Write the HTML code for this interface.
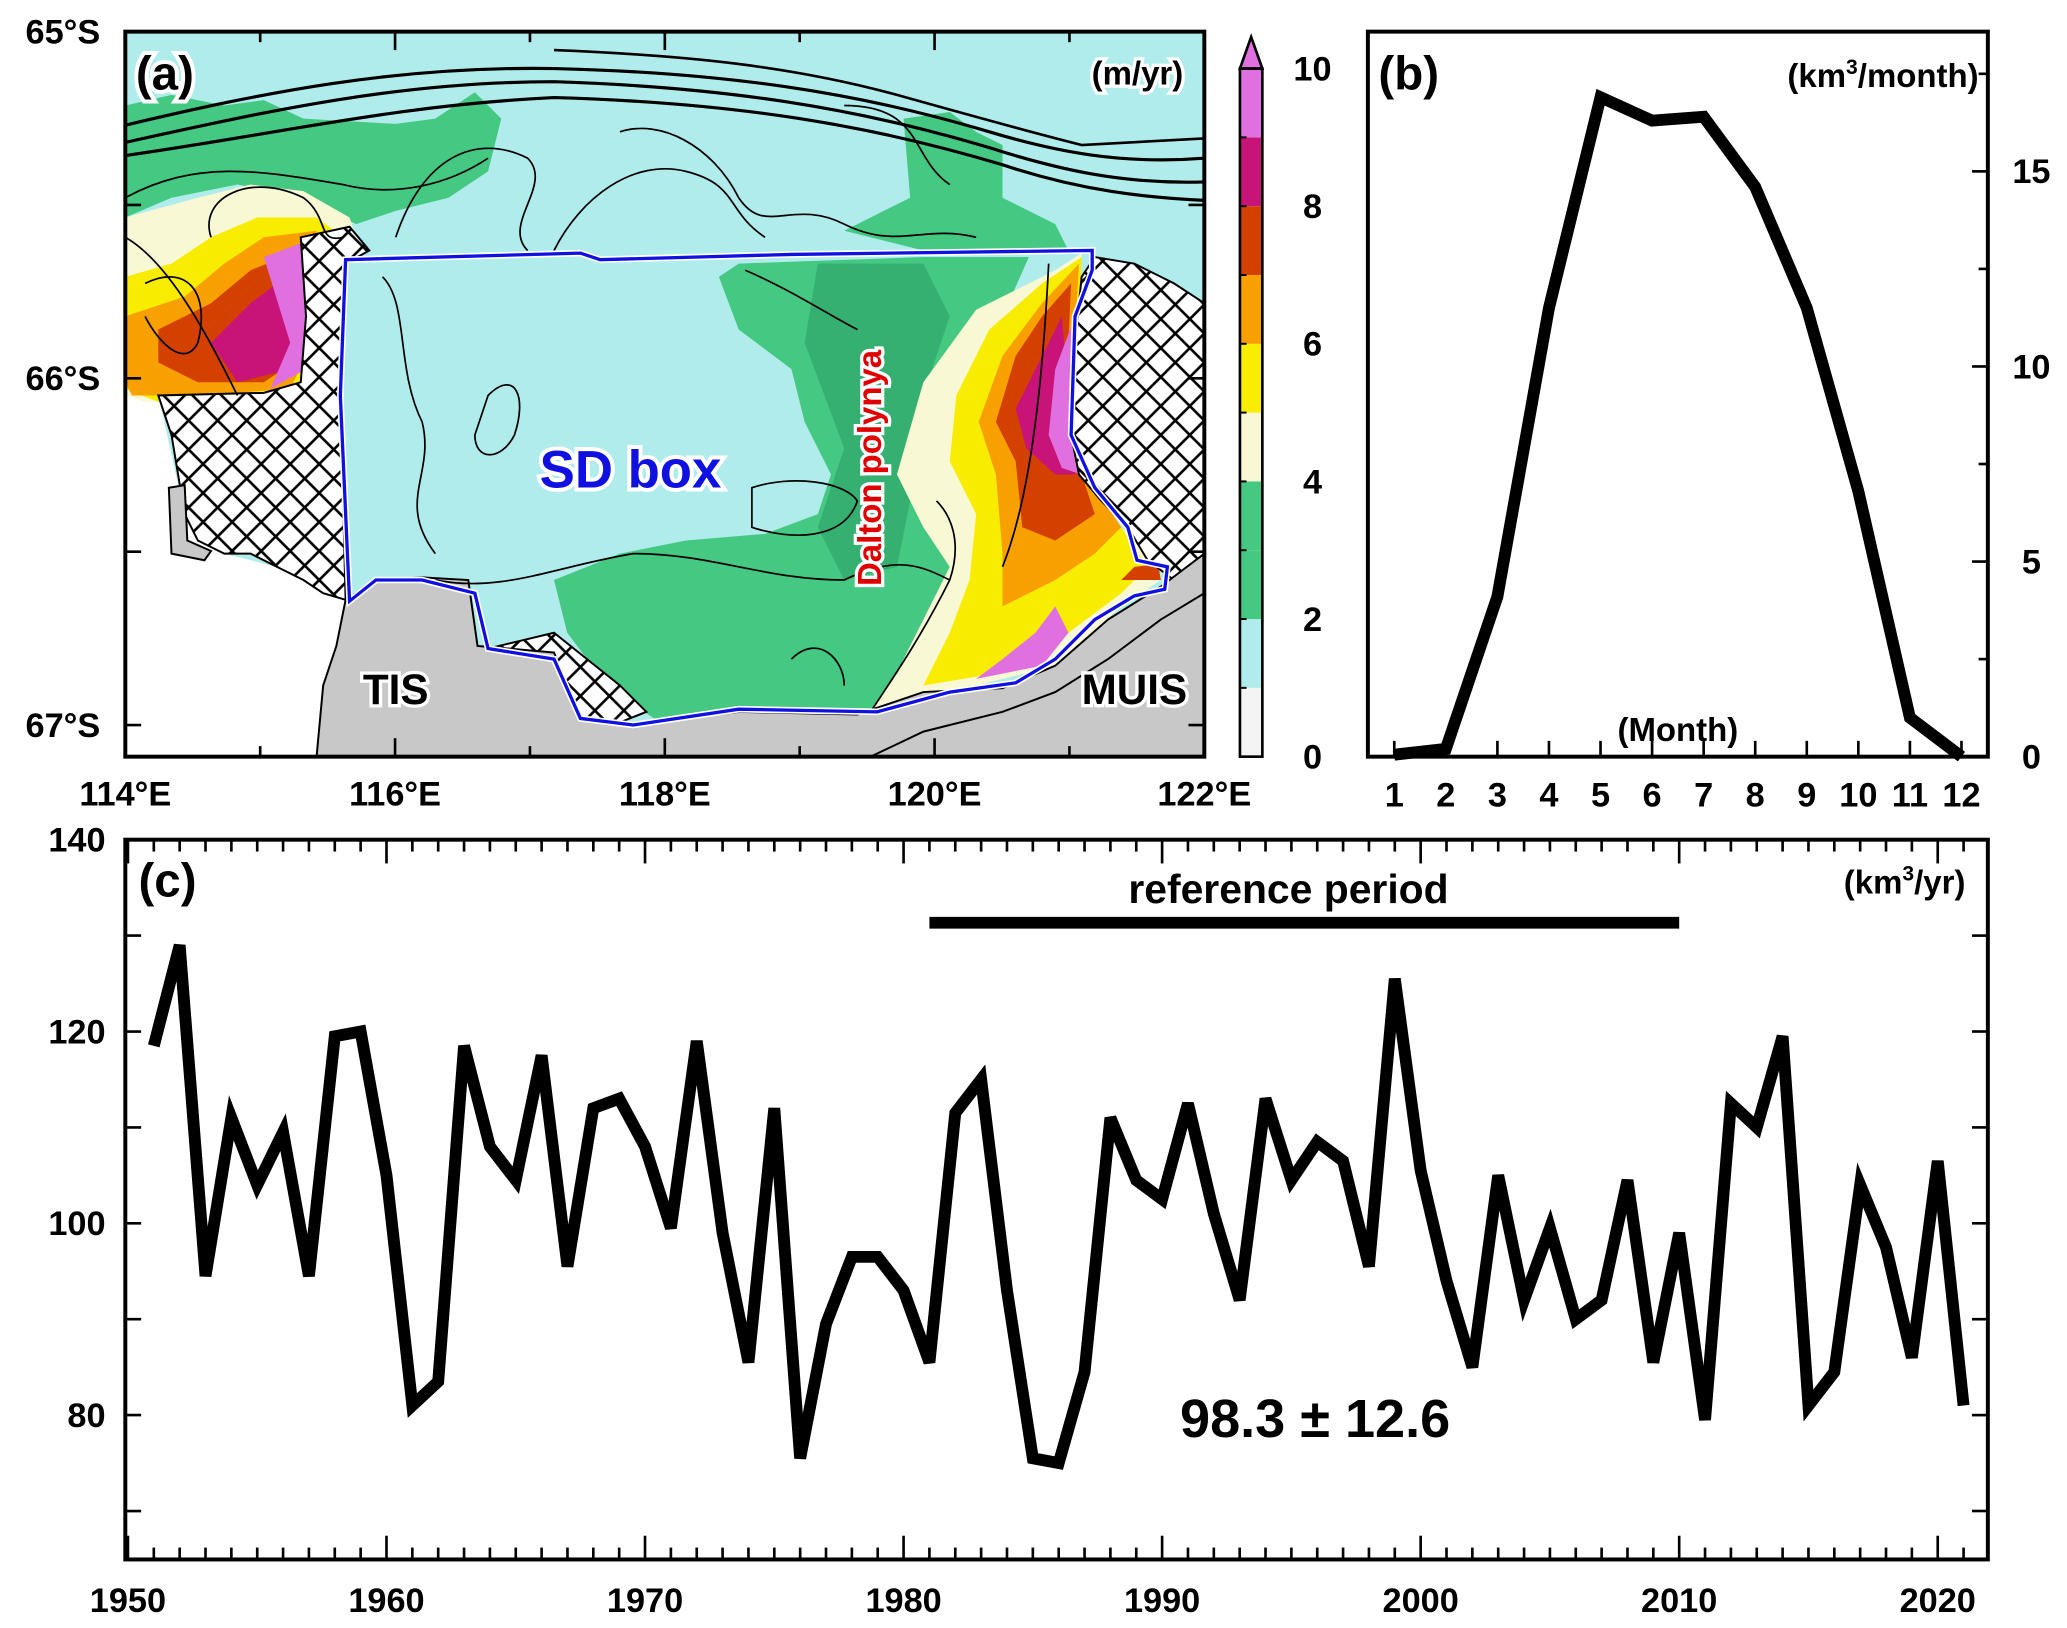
<!DOCTYPE html>
<html><head><meta charset="utf-8">
<style>
html,body{margin:0;padding:0;background:#fff;}
svg{display:block;}
text{font-family:"Liberation Sans",Arial,sans-serif;font-weight:bold;}
</style></head>
<body>
<svg id="fig" xmlns="http://www.w3.org/2000/svg" width="2067" height="1628" viewBox="0 0 1567 1235" preserveAspectRatio="none">
<defs>
<pattern id="hatch" patternUnits="userSpaceOnUse" width="22" height="22">
<rect width="22" height="22" fill="#fff"/>
<path d="M0,0 L22,22 M22,0 L0,22" stroke="#000" stroke-width="2"/>
</pattern>
<clipPath id="mapclip"><rect x="95" y="24" width="818" height="550"/></clipPath>
</defs>

<!-- ===== Panel a: map ===== -->
<g>
<g clip-path="url(#mapclip)">
<rect x="95" y="24" width="818" height="550" fill="#b0ecec"/>
<path fill="#fff" d="M95,300 L120,300 L140,390 L170,420 L210,430 L262,455 L255,490 L245,520 L240,574 L95,574 Z"/>
<path fill="#45c882" d="M95,80 L130,72 L170,80 L200,76 L230,90 L300,94 L330,90 L360,70 L380,90 L370,130 L340,150 L300,160 L270,170 L230,150 L180,140 L130,150 L95,165 Z"/>
<path fill="#45c882" d="M685,90 L720,85 L740,100 L760,110 L760,150 L780,160 L800,170 L810,190 L700,190 L640,175 L690,150 Z"/>
<path fill="#45c882" d="M560,200 L700,195 L780,195 L760,240 L740,300 L730,380 L740,450 L720,500 L700,530 L660,540 L560,545 L500,548 L460,520 L430,480 L420,440 L470,420 L520,410 L580,405 L620,390 L630,360 L610,320 L600,280 L560,250 L545,210 Z"/>
<path fill="#36b070" d="M620,200 L700,200 L720,240 L700,300 L690,380 L680,430 L640,440 L620,400 L640,340 L610,260 Z"/>
<path fill="#f8f8d4" d="M820,192 L800,205 L740,235 L700,290 L680,360 L700,400 L720,430 L700,470 L680,510 L660,540 L740,520 L800,505 L850,460 L880,440 L860,410 L840,390 L820,360 L815,300 Z"/>
<path fill="#f8ec00" d="M820,195 L790,215 L750,250 L725,300 L720,350 L740,390 L735,440 L720,480 L700,520 L760,510 L810,480 L850,450 L870,430 L850,400 L830,380 L815,330 L818,250 Z"/>
<path fill="#f8a000" d="M818,200 L790,230 L760,270 L742,320 L755,360 L760,420 L760,460 L800,440 L830,420 L850,400 L830,370 L815,330 L815,250 Z"/>
<path fill="#d44000" d="M812,215 L790,240 L770,270 L755,320 L770,350 L775,400 L800,410 L830,390 L820,360 L808,320 L810,260 Z"/>
<path fill="#c81478" d="M805,240 L790,270 L770,310 L778,340 L800,360 L815,360 L810,300 Z"/>
<path fill="#e070e0" d="M815,240 L800,280 L795,330 L805,355 L820,360 L812,300 Z"/>
<path fill="#e070e0" d="M800,460 L785,480 L760,500 L740,515 L790,505 L810,480 Z"/>
<path fill="#d44000" d="M860,430 L850,440 L880,440 L878,428 Z"/>
<path fill="#f8f8d4" d="M95,165 L150,150 L190,140 L230,145 L265,165 L270,180 L240,200 L230,240 L240,280 L200,300 L110,305 L95,300 Z"/>
<path fill="#f8ec00" d="M95,210 L130,200 L160,180 L195,165 L240,165 L260,180 L235,200 L230,260 L235,290 L200,300 L120,305 L95,295 Z"/>
<path fill="#f8a000" d="M95,240 L140,225 L170,200 L200,180 L240,175 L240,200 L232,270 L220,295 L150,300 L100,300 L95,290 Z"/>
<path fill="#d44000" d="M120,250 L160,230 L190,205 L215,195 L232,200 L230,270 L200,290 L150,290 L120,275 Z"/>
<path fill="#c81478" d="M160,260 L190,230 L210,215 L225,230 L220,280 L180,290 Z"/>
<path fill="#e070e0" d="M200,195 L240,180 L255,190 L235,230 L232,280 L205,295 L220,260 Z"/>
<path fill="url(#hatch)" stroke="#000" stroke-width="1.5" d="M228,180 L265,172 L280,190 L262,200 L258,300 L262,455 L245,450 L230,440 L210,430 L190,420 L170,420 L150,410 L140,390 L130,330 L120,300 L200,298 L228,290 L232,240 Z"/>
<path fill="url(#hatch)" stroke="#000" stroke-width="1.5" d="M830,195 L860,200 L890,215 L913,230 L913,420 L890,440 L870,425 L855,400 L835,380 L818,360 L812,330 L815,260 L820,210 Z"/>
<path fill="url(#hatch)" stroke="#000" stroke-width="1.5" d="M370,492 L420,480 L445,500 L470,520 L490,540 L470,548 L440,545 L420,520 L390,500 Z"/>
<path fill="#c8c8c8" stroke="#000" stroke-width="1.5" d="M262,455 L285,440 L320,438 L355,440 L362,490 L420,495 L440,545 L480,550 L560,540 L650,542 L700,525 L760,522 L800,505 L840,470 L880,445 L913,420 L913,574 L240,574 L245,520 L255,490 Z"/>
<path fill="#c8c8c8" stroke="#000" stroke-width="1.5" d="M128,370 L140,368 L142,410 L160,418 L155,425 L130,420 Z"/>
<path fill="none" stroke="#000" stroke-width="1.5" d="M660,574 L700,555 L760,540 L800,525 L840,500 L880,470 L913,450"/>
<g fill="none" stroke="#000">
<path stroke-width="2.4" d="M95,95 C200,70 300,50 420,52 C550,55 650,70 750,100 C800,115 850,125 913,120"/>
<path stroke-width="2.4" d="M95,108 C200,85 300,62 420,62 C550,66 650,82 750,112 C800,128 850,140 913,138"/>
<path stroke-width="2.4" d="M95,118 C220,100 300,80 420,74 C560,78 660,95 760,125 C820,145 870,150 913,152"/>
<path stroke-width="2" d="M420,38 C520,42 600,50 680,72 C730,86 780,100 820,110 L913,105"/>
<path stroke-width="1.3" d="M95,150 C150,120 200,130 260,140 C300,150 340,140 370,120"/>
<path stroke-width="1.3" d="M160,180 C150,150 190,130 230,150 C250,165 240,185 260,180"/>
<path stroke-width="1.3" d="M300,180 C320,120 360,100 400,120 C420,140 380,170 400,190"/>
<path stroke-width="1.3" d="M420,190 C440,150 480,120 520,130 C560,140 550,160 580,180"/>
<path stroke-width="1.3" d="M470,100 C500,90 540,110 560,150 C580,180 600,150 640,170 C680,190 700,170 740,180"/>
<path stroke-width="1.3" d="M640,80 C700,80 690,120 720,140"/>
<path stroke-width="1.3" d="M95,180 C130,200 160,260 180,300"/>
<path stroke-width="1.3" d="M110,215 C140,200 160,220 150,260 C140,280 120,260 110,240"/>
<path stroke-width="1.3" d="M290,210 C310,230 300,280 320,320 C330,360 300,380 330,420"/>
<path stroke-width="1.3" d="M370,300 C390,280 400,300 390,330 C380,350 360,350 360,330 Z"/>
<path stroke-width="1.3" d="M565,205 C600,220 630,240 650,250"/>
<path stroke-width="1.3" d="M570,370 C600,360 640,365 650,380 C640,410 600,410 570,400 Z"/>
<path stroke-width="1.3" d="M330,440 C380,450 420,430 480,420 C540,420 580,440 640,440 C680,420 700,430 720,440"/>
<path stroke-width="1.3" d="M660,540 C680,510 700,480 720,440 C730,410 720,390 710,380"/>
<path stroke-width="1.3" d="M760,430 C780,380 790,300 795,200"/>
<path stroke-width="1.3" d="M600,500 C620,480 640,500 640,520"/>
</g>
<path fill="none" stroke="#fff" stroke-width="5" d="M262,197 L440,192 L455,197 L600,193 L828,190 L828,205 L815,240 L812,330 L830,370 L855,400 L862,425 L885,430 L883,447 L860,452 L830,470 L800,500 L770,518 L720,525 L665,540 L560,538 L480,550 L440,545 L420,500 L370,492 L360,450 L320,440 L285,440 L265,456 L258,300 Z"/>
<path fill="none" stroke="#1010e0" stroke-width="2.5" d="M262,197 L440,192 L455,197 L600,193 L828,190 L828,205 L815,240 L812,330 L830,370 L855,400 L862,425 L885,430 L883,447 L860,452 L830,470 L800,500 L770,518 L720,525 L665,540 L560,538 L480,550 L440,545 L420,500 L370,492 L360,450 L320,440 L285,440 L265,456 L258,300 Z"/>
</g>
<rect x="95" y="24" width="818" height="550" fill="none" stroke="#000" stroke-width="3"/>
<g id="mapTicks"></g>
<text x="103" y="68" font-size="36" stroke="#fff" stroke-width="6" paint-order="stroke">(a)</text>
<text x="897" y="64" font-size="25" text-anchor="end" stroke="#fff" stroke-width="5" paint-order="stroke">(m/yr)</text>
<text x="478" y="370" font-size="40" fill="#1010e0" text-anchor="middle" stroke="#fff" stroke-width="6" paint-order="stroke">SD box</text>
<text transform="translate(668,355) rotate(-90)" font-size="25" fill="#e00000" text-anchor="middle" stroke="#fff" stroke-width="5" paint-order="stroke">Dalton polynya</text>
<text x="300" y="534" font-size="32" text-anchor="middle" stroke="#fff" stroke-width="5" paint-order="stroke">TIS</text>
<text x="860" y="534" font-size="32" text-anchor="middle" stroke="#fff" stroke-width="5" paint-order="stroke">MUIS</text>
<g id="mapLabels"></g>
</g>

<g id="cbar"></g>

<!-- ===== Panel b ===== -->
<g>
<g id="bTicks"></g>
<path id="bLine" fill="none" stroke="#000" stroke-width="9" stroke-linejoin="miter"/>
<rect x="1037" y="24" width="470" height="550" fill="none" stroke="#000" stroke-width="3"/>
<text x="1045" y="68" font-size="36">(b)</text>
<text x="1500" y="66" font-size="25" text-anchor="end">(km<tspan font-size="16" dy="-10">3</tspan><tspan dy="10">/month)</tspan></text>
<text x="1272" y="562" font-size="25" text-anchor="middle">(Month)</text>
</g>

<!-- ===== Panel c ===== -->
<g>
<g id="cTicks"></g>
<line id="refBar" stroke="#000" stroke-width="9"/>
<text id="refText" font-size="31" text-anchor="middle">reference period</text>
<path id="cLine" fill="none" stroke="#000" stroke-width="9" stroke-linejoin="miter"/>
<rect x="95" y="637" width="1412" height="546" fill="none" stroke="#000" stroke-width="3"/>
<text x="105" y="680" font-size="36">(c)</text>
<text x="1490" y="678" font-size="25" text-anchor="end">(km<tspan font-size="16" dy="-10">3</tspan><tspan dy="10">/yr)</tspan></text>
<text x="997" y="1090" font-size="41" text-anchor="middle">98.3 ± 12.6</text>
</g>
</svg>
<script>
const NS="http://www.w3.org/2000/svg";
const months=[1,2,3,4,5,6,7,8,9,10,11,12];
const monthlyVolume=[0.05,0.2,4.1,11.5,16.9,16.3,16.4,14.6,11.5,6.8,1.0,0.0];
const monthlyTicks=[0,5,10,15];
const years=[1951,1952,1953,1954,1955,1956,1957,1958,1959,1960,1961,1962,1963,1964,1965,1966,1967,1968,1969,1970,1971,1972,1973,1974,1975,1976,1977,1978,1979,1980,1981,1982,1983,1984,1985,1986,1987,1988,1989,1990,1991,1992,1993,1994,1995,1996,1997,1998,1999,2000,2001,2002,2003,2004,2005,2006,2007,2008,2009,2010,2011,2012,2013,2014,2015,2016,2017,2018,2019,2020,2021];
const annualVolume=[118.5,129,94.5,111,104,109.5,94.5,119.5,120,105,81,83.5,118.5,108,104.5,117.5,95.5,112,113,108,99.5,119,99,85.5,112,75.5,89.5,96.5,96.5,93,85.5,111.5,115,93,75.5,75,84.5,111,104.5,102.5,112.5,101,92,113,104.5,108.5,106.5,95.5,125.5,105.5,94,85,105,92,99.5,90,92,104.5,85.5,99,79.5,112.5,110,119.5,81,84.5,104,97.5,86,106.5,81];
const annualTicks=[80,100,120,140];
const yearTicks=[1950,1960,1970,1980,1990,2000,2010,2020];
const refPeriod=[1981,2010];
const cbarLevels=[0,1,2,3,4,5,6,7,8,9,10];
const cbarColors=["#f4f4f4","#b0ecec","#45c882","#45c882","#f8f8d4","#f8ec00","#f8a000","#d44000","#c81478","#e070e0"];
const cbarLabels=[0,2,4,6,8,10];
const lonLabels=["114°E","116°E","118°E","120°E","122°E"];
const latLabels=["65°S","66°S","67°S"];

function mk(tag,attrs,parent,txt){const e=document.createElementNS(NS,tag);for(const k in attrs)e.setAttribute(k,attrs[k]);if(txt!==undefined)e.textContent=txt;parent.appendChild(e);return e;}
const FS=26;

const bx=m=>1057+(m-1)*(1487-1057)/11;
const by=v=>574-v*(148/5);
const bT=document.getElementById('bTicks');


months.forEach(m=>{
  const l=mk('line',{x1:bx(m),x2:bx(m),y1:574,y2:562,stroke:'#000','stroke-width':2},bT);
  
  
  const t=mk('text',{x:bx(m),y:612,'font-size':FS,'text-anchor':'middle'},bT,String(m));
  
  
});
for(let v=0;v<=18;v+=2.5){const l=mk('line',{x1:1507,x2:1507-(v%5===0?12:7),y1:by(v),y2:by(v),stroke:'#000','stroke-width':2},bT);
  
  }
monthlyTicks.forEach(v=>{const t=mk('text',{x:1540,y:by(v)+9,'font-size':FS,'text-anchor':'middle'},bT,String(v));
  
  });
document.getElementById('bLine').setAttribute('d',months.map((m,i)=>(i?'L':'M')+bx(m)+','+by(monthlyVolume[i])).join(' '));

const cx=y=>97+(y-1950)*19.6;
const cy=v=>637+(140-v)*7.275;
const cT=document.getElementById('cTicks');


for(let y=1950;y<=2021;y++){
  const big=y%10===0;
  const l1=mk('line',{x1:cx(y),x2:cx(y),y1:1183,y2:1183-(big?18:9),stroke:'#000','stroke-width':2},cT);
  
  
  const l2=mk('line',{x1:cx(y),x2:cx(y),y1:637,y2:637+(big?18:9),stroke:'#000','stroke-width':2},cT);
  
  
}
yearTicks.forEach(y=>{const t=mk('text',{x:cx(y),y:1223,'font-size':FS,'text-anchor':'middle'},cT,String(y));
  
  });
for(let v=70;v<=140;v+=10){
  const l=mk('line',{x1:95,x2:107,y1:cy(v),y2:cy(v),stroke:'#000','stroke-width':2},cT);
  
  
  const r=mk('line',{x1:1507,x2:1495,y1:cy(v),y2:cy(v),stroke:'#000','stroke-width':2},cT);
  
  
}
annualTicks.forEach(v=>{const t=mk('text',{x:80,y:cy(v)+9,'font-size':FS,'text-anchor':'end'},cT,String(v));
  
  });
document.getElementById('cLine').setAttribute('d',years.map((y,i)=>(i?'L':'M')+cx(y)+','+cy(annualVolume[i])).join(' '));
const rb=document.getElementById('refBar');
rb.setAttribute('x1',cx(refPeriod[0]));rb.setAttribute('x2',cx(refPeriod[1]));rb.setAttribute('y1',700);rb.setAttribute('y2',700);
const rt=document.getElementById('refText');
rt.setAttribute('x',(cx(refPeriod[0])+cx(refPeriod[1]))/2-12);rt.setAttribute('y',685);

const mT=document.getElementById('mapTicks');
for(let i=0;i<=8;i++){const x=95+i*818/8;
  const a=mk('line',{x1:x,x2:x,y1:574,y2:574-(i%2?8:14),stroke:'#000','stroke-width':2},mT);
  
  
  const b=mk('line',{x1:x,x2:x,y1:24,y2:24+(i%2?8:14),stroke:'#000','stroke-width':2},mT);
  
  }
for(let j=0;j<=4;j++){const y=24+j*131.5;
  const a=mk('line',{x1:95,x2:107,y1:y,y2:y,stroke:'#000','stroke-width':2},mT);
  
  
  const b=mk('line',{x1:913,x2:901,y1:y,y2:y,stroke:'#000','stroke-width':2},mT);
  
  }
const mL=document.getElementById('mapLabels');
lonLabels.forEach((s,i)=>{const t=mk('text',{x:95+i*204.5,y:611,'font-size':FS,'text-anchor':'middle'},mL,s);
  
  });
latLabels.forEach((s,i)=>{const t=mk('text',{x:76,y:24+i*263+9,'font-size':FS,'text-anchor':'end'},mL,s);
  
  });

const cb=document.getElementById('cbar');
const cbY=v=>574-v*(522/10);
for(let i=0;i<cbarColors.length;i++){
  const r=mk('rect',{x:940,y:cbY(cbarLevels[i+1]),width:17,height:cbY(cbarLevels[i])-cbY(cbarLevels[i+1]),fill:cbarColors[i]},cb);
  
  
}
const tri=mk('path',{d:`M940,${cbY(10)} L948.5,${cbY(10)-24} L957,${cbY(10)} Z`,fill:'#e070e0',stroke:'#000','stroke-width':2},cb);


const fr=mk('rect',{x:940,y:cbY(10),width:17,height:cbY(0)-cbY(10),fill:'none',stroke:'#000','stroke-width':2},cb);


for(let v=1;v<10;v++){const l=mk('line',{x1:940,x2:945,y1:cbY(v),y2:cbY(v),stroke:'#000','stroke-width':1.5},cb);
  
  }
cbarLabels.forEach(v=>{const t=mk('text',{x:995,y:cbY(v)+9,'font-size':FS,'text-anchor':'middle'},cb,String(v));
  
  });
</script>
</body></html>
